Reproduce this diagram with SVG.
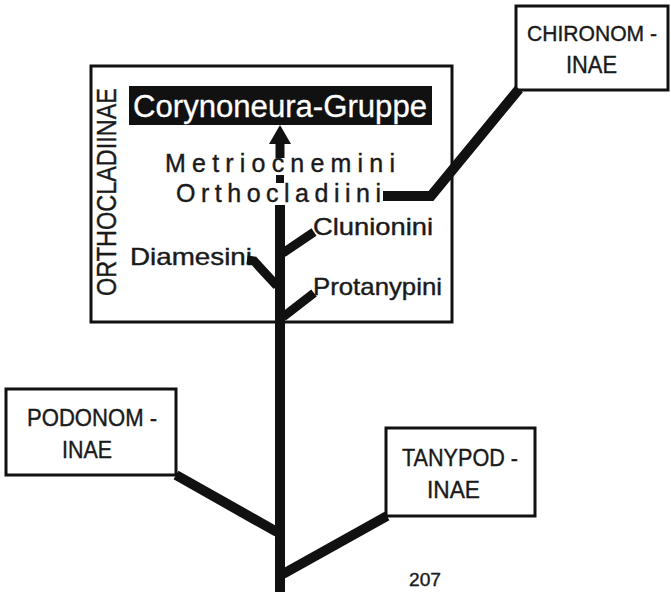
<svg xmlns="http://www.w3.org/2000/svg" width="671" height="592" viewBox="0 0 671 592">
  <style>
    .box { fill: #fff; stroke: #111; stroke-width: 3; }
    .lbl { font-family: "Liberation Sans", "DejaVu Sans", sans-serif; fill: #1a1a1a; stroke: #1a1a1a; stroke-width: 0.4; }
    .inv { fill: #fff; stroke: #fff; stroke-width: 0.3; }
    .stem { stroke: #111; fill: none; stroke-linejoin: miter; stroke-linecap: butt; }
  </style>
  <rect width="671" height="592" fill="#fff"/>

  <!-- subfamily Orthocladiinae frame -->
  <g id="orthocladiinae">
    <rect class="box" x="91" y="66" width="361" height="256"/>
    <text class="lbl" transform="translate(116,296) rotate(-90)" font-size="27" textLength="208" lengthAdjust="spacingAndGlyphs">ORTHOCLADIINAE</text>
  </g>

  <g id="corynoneura">
    <rect x="129" y="86" width="303" height="39" fill="#111"/>
    <text class="lbl inv" x="133" y="117" font-size="31" textLength="294" lengthAdjust="spacingAndGlyphs">Corynoneura-Gruppe</text>
  </g>

  <g id="metriocnemini">
    <text class="lbl" x="165" y="172" font-size="25" textLength="230" lengthAdjust="spacing">Metriocnemini</text>
  </g>
  <g id="orthocladiini">
    <text class="lbl" x="176" y="202" font-size="25" textLength="205" lengthAdjust="spacing">Orthocladiini</text>
  </g>
  <g id="clunionini">
    <text class="lbl" x="313" y="235" font-size="24" textLength="120" lengthAdjust="spacingAndGlyphs">Clunionini</text>
  </g>
  <g id="diamesini">
    <text class="lbl" x="130" y="265" font-size="24" textLength="122" lengthAdjust="spacingAndGlyphs">Diamesini</text>
  </g>
  <g id="protanypini">
    <text class="lbl" x="313" y="295" font-size="24" textLength="129" lengthAdjust="spacingAndGlyphs">Protanypini</text>
  </g>

  <!-- outer subfamilies -->
  <g id="chironominae">
    <rect class="box" x="516" y="6" width="152" height="84"/>
    <text class="lbl" x="527" y="41" font-size="22" textLength="130" lengthAdjust="spacingAndGlyphs">CHIRONOM -</text>
    <text class="lbl" x="566" y="73" font-size="24" textLength="51" lengthAdjust="spacingAndGlyphs">INAE</text>
  </g>
  <g id="podonominae">
    <rect class="box" x="6" y="389" width="170" height="86"/>
    <text class="lbl" x="27" y="426" font-size="24" textLength="130" lengthAdjust="spacingAndGlyphs">PODONOM -</text>
    <text class="lbl" x="62" y="458" font-size="24" textLength="50" lengthAdjust="spacingAndGlyphs">INAE</text>
  </g>
  <g id="tanypodinae">
    <rect class="box" x="386" y="428" width="149" height="88"/>
    <text class="lbl" x="402" y="466" font-size="24" textLength="116" lengthAdjust="spacingAndGlyphs">TANYPOD -</text>
    <text class="lbl" x="427" y="498" font-size="24" textLength="53" lengthAdjust="spacingAndGlyphs">INAE</text>
  </g>

  <g id="page-number">
    <text class="lbl" x="409" y="586" font-size="19" stroke-width="0" textLength="32" lengthAdjust="spacingAndGlyphs">207</text>
  </g>

  <!-- tree: trunk and side branches -->
  <g id="connectors">
    <line class="stem" x1="280" y1="205" x2="280" y2="592" stroke-width="10"/>
    <rect x="276" y="175" width="8" height="8" fill="#111"/>
    <line class="stem" x1="280" y1="158" x2="280" y2="142" stroke-width="9"/>
    <polygon points="280,125 291,144 269,144" fill="#111"/>
    <polyline class="stem" points="247,260 254,261 277,286" stroke-width="9"/>
    <line class="stem" x1="283" y1="253" x2="314" y2="232" stroke-width="9"/>
    <line class="stem" x1="283" y1="317" x2="314" y2="293" stroke-width="9"/>
    <polyline class="stem" points="383,196 431,196 519,89" stroke-width="10"/>
    <line class="stem" x1="176" y1="475" x2="277" y2="532" stroke-width="10"/>
    <line class="stem" x1="387" y1="516" x2="283" y2="574" stroke-width="10"/>
  </g>
</svg>
